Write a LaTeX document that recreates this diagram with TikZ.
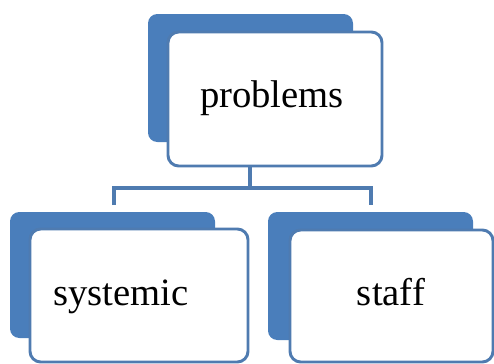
\documentclass[tikz,border=0pt]{standalone}
\usepackage{fontspec}
\setmainfont{Liberation Serif}
\definecolor{backblue}{HTML}{4A7EBB}
\definecolor{lineblue}{HTML}{4F7BB0}
\begin{document}
\begin{tikzpicture}[x=0.75pt,y=-0.75pt,
  backbox/.style={fill=backblue,draw=none,rounded corners=7pt},
  frontbox/.style={fill=white,draw=lineblue,line width=2.2pt,rounded corners=8pt},
  label/.style={font=\fontsize{29}{32}\selectfont,anchor=base,inner sep=0pt},
  conn/.style={draw=lineblue,line width=2.4pt}]
\useasboundingbox (0,0) rectangle (494,364);
% top group
\path[backbox] (148,14) rectangle (353,142);
\path[frontbox] (168,32) rectangle (382,166);
\node[label] (problems) at (272,108) {problems};
% bottom-left group
\path[backbox] (10,212) rectangle (215,338);
\path[frontbox] (30,229) rectangle (248,362);
\node[label] (systemic) at (121,305) {systemic};
% bottom-right group
\path[backbox] (268,212) rectangle (473,340);
\path[frontbox] (290,230) rectangle (493,362);
\node[label] (staff) at (391,305) {staff};
% connectors
\coordinate (topout) at (250,166);
\coordinate (hub) at (250,188);
\coordinate (leftin) at (114,205);
\coordinate (rightin) at (371,205);
\draw[conn] (topout) -- (hub);
\draw[conn] (leftin) |- (hub) -| (rightin);
\end{tikzpicture}
\end{document}
